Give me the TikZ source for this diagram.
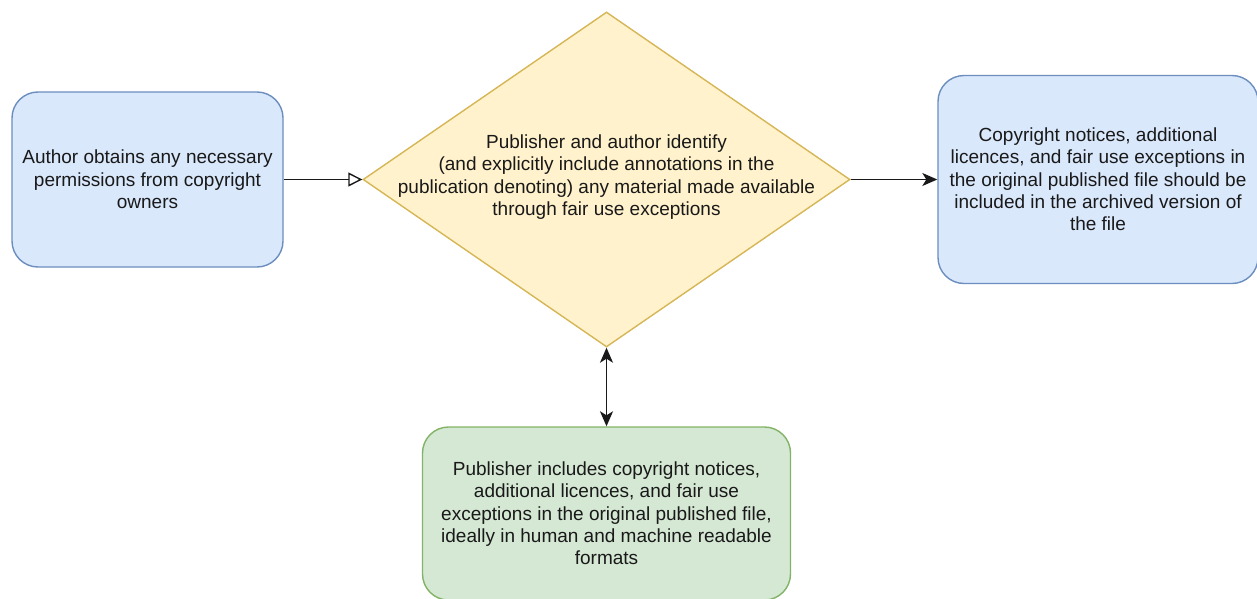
\documentclass[tikz,border=0pt]{standalone}
\usepackage{fontspec}
\setmainfont{Liberation Sans}
\usetikzlibrary{arrows.meta, positioning, shapes.geometric}
\definecolor{bluefill}{HTML}{DAE8FC}
\definecolor{bluedraw}{HTML}{6C8EBF}
\definecolor{yellowfill}{HTML}{FFF2CC}
\definecolor{yellowdraw}{HTML}{D6B656}
\definecolor{greenfill}{HTML}{D5E8D4}
\definecolor{greendraw}{HTML}{82B366}
\newcommand{\diagfont}{\fontsize{19}{22.3}\selectfont}
\tikzset{
  stepbox/.style={draw, line width=1.4pt, rounded corners=26pt, inner sep=0pt, align=center, font=\diagfont, text=black!90},
  decision/.style={diamond, draw=yellowdraw, fill=yellowfill, line width=1.4pt, inner sep=0pt},
  link/.style={line width=1.4pt, black!90}
}

\begin{document}
\begin{tikzpicture}[x=1pt, y=-1pt, >={Stealth[length=15pt, width=13pt, inset=4pt]}]
\useasboundingbox (0,0) rectangle (1257,599);
% the three boxes and the decision in the middle
\node[stepbox, fill=bluefill, draw=bluedraw, minimum width=271pt, minimum height=175pt] (author) at (147.5,179.5)
  {Author obtains any necessary\\permissions from copyright\\owners};
\node[decision, minimum width=487pt, minimum height=335pt] (idfy) at (606.5,179.5) {};
\node[align=center, font=\diagfont, text=black!90, inner sep=0pt] (idfytext) at (606.5,177)
  {Publisher and author identify\\(and explicitly include annotations in the\\publication denoting) any material made available\\through fair use exceptions};
\node[stepbox, fill=bluefill, draw=bluedraw, minimum width=320pt, minimum height=208pt] (archive) at (1098,179.5)
  {Copyright notices, additional\\licences, and fair use exceptions in\\the original published file should be\\included in the archived version of\\the file};
\node[stepbox, fill=greenfill, draw=greendraw, minimum width=368pt, minimum height=173pt] (incl) at (606.5,513.5)
  {Publisher includes copyright notices,\\additional licences, and fair use\\exceptions in the original published file,\\ideally in human and machine readable\\formats};
% connectors
\draw[link, -{Triangle[open, length=14pt, width=14pt]}] (author.east) -- (idfy.west);
\draw[link, ->] (idfy.east) -- (archive.west);
\draw[link, <->] (idfy.south) -- (incl.north);
\end{tikzpicture}
\end{document}
